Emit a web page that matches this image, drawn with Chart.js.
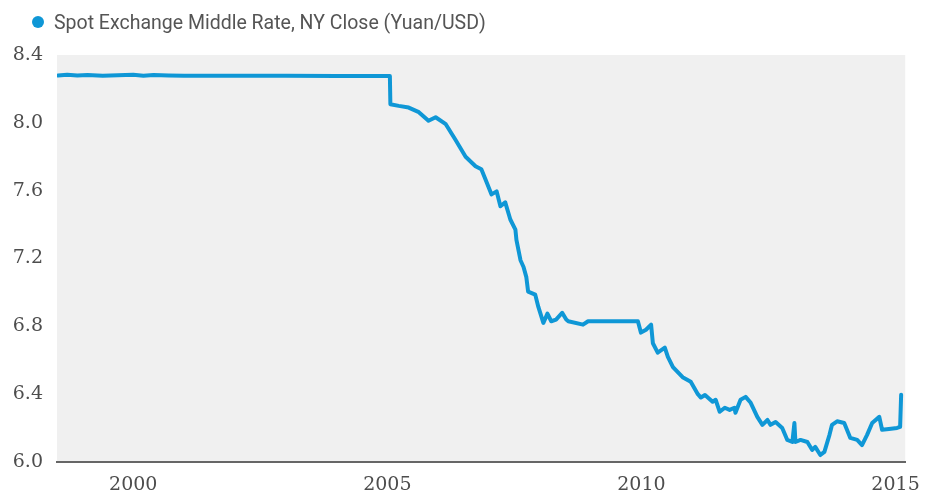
<!DOCTYPE html>
<html>
<head>
<meta charset="utf-8">
<script src="https://cdn.jsdelivr.net/npm/chart.js@4.4.0/dist/chart.umd.min.js"></script>
<style>
  html, body { margin: 0; padding: 0; background: #ffffff; }
  #wrap { position: relative; width: 932px; height: 495px; }
  #legend { position: absolute; left: 32px; top: 10px; height: 24px; font-family: Roboto, "Noto Sans", sans-serif; font-size: 19.5px; color: #555; display: flex; align-items: center; white-space: nowrap; }
  #legend .dot { width: 12px; height: 12px; border-radius: 50%; background: #0f97d6; margin-right: 10px; }
</style>
</head>
<body>
<div id="wrap">
  <canvas id="c" width="932" height="495"></canvas>
  <div id="legend"><span class="dot"></span><span id="legendText"></span></div>
</div>
<script>
// ---- Data (decimal year, Yuan per USD) ----
const seriesName = 'Spot Exchange Middle Rate, NY Close (Yuan/USD)';
const years = [
  1999.02, 1999.2, 1999.4, 1999.6, 1999.9, 2000.2, 2000.5, 2000.7, 2000.9, 2001.2,
  2001.5, 2001.8, 2002.5, 2003.5, 2004.5, 2005.0, 2005.55, 2005.56,
  2005.725, 2005.92, 2006.12, 2006.31, 2006.45, 2006.65, 2006.84, 2007.04, 2007.235, 2007.35,
  2007.43, 2007.55, 2007.65, 2007.725, 2007.82, 2007.92, 2008.02, 2008.04, 2008.12, 2008.18,
  2008.235, 2008.27, 2008.41, 2008.47, 2008.57, 2008.65, 2008.725, 2008.82, 2008.94, 2009.02,
  2009.06, 2009.35, 2009.45, 2009.65, 2010.18, 2010.43, 2010.49, 2010.59, 2010.69, 2010.725,
  2010.82, 2010.96, 2011.02, 2011.12, 2011.31, 2011.47, 2011.61, 2011.67, 2011.75, 2011.90,
  2011.96, 2012.04, 2012.14, 2012.235, 2012.33, 2012.35, 2012.45, 2012.55, 2012.65, 2012.78,
  2012.88, 2012.98, 2013.04, 2013.14, 2013.27, 2013.37, 2013.47, 2013.51, 2013.53, 2013.63,
  2013.765, 2013.86, 2013.92, 2014.02, 2014.10, 2014.20, 2014.25, 2014.35, 2014.49, 2014.61,
  2014.745, 2014.84, 2014.94, 2015.04, 2015.18, 2015.235, 2015.37, 2015.53, 2015.59, 2015.61
];
const rates = [
  8.279, 8.283, 8.279, 8.282, 8.278, 8.280, 8.283, 8.278, 8.282, 8.279,
  8.277, 8.278, 8.277, 8.277, 8.276, 8.276, 8.276, 8.110,
  8.100, 8.090, 8.063, 8.012, 8.033, 7.992, 7.900, 7.800, 7.744, 7.726,
  7.667, 7.578, 7.596, 7.508, 7.531, 7.430, 7.370, 7.310, 7.190, 7.150,
  7.090, 7.005, 6.987, 6.916, 6.820, 6.875, 6.830, 6.840, 6.880, 6.840,
  6.830, 6.810, 6.830, 6.830, 6.830, 6.830, 6.763, 6.780, 6.810, 6.700,
  6.645, 6.674, 6.620, 6.560, 6.500, 6.473, 6.400, 6.380, 6.395, 6.355,
  6.367, 6.296, 6.320, 6.307, 6.320, 6.290, 6.367, 6.384, 6.349, 6.266,
  6.219, 6.248, 6.219, 6.236, 6.201, 6.130, 6.118, 6.230, 6.118, 6.130,
  6.118, 6.071, 6.089, 6.041, 6.060, 6.160, 6.219, 6.240, 6.230, 6.142,
  6.130, 6.100, 6.160, 6.230, 6.266, 6.190, 6.195, 6.201, 6.207, 6.396
];
// ---- Axis labels ----
const xTickPositions = [2000.5, 2005.5, 2010.5, 2015.5];
const xTickLabels = ['2000', '2005', '2010', '2015'];
const yTickValues = [6.0, 6.4, 6.8, 7.2, 7.6, 8.0, 8.4];

document.getElementById('legendText').textContent = seriesName;

const lineColor = '#0f97d6';
const bgPlugin = {
  id: 'plotBg',
  beforeDraw(chart) {
    const { ctx, chartArea: a } = chart;
    ctx.save();
    ctx.fillStyle = '#f0f0f0';
    ctx.fillRect(a.left, a.top, a.right - a.left, a.bottom - a.top);
    ctx.restore();
  }
};

const tickFont = { family: '"DejaVu Serif", serif', size: 19 };

new Chart(document.getElementById('c'), {
  type: 'line',
  data: {
    datasets: [{
      label: seriesName,
      data: years.map((y, i) => ({ x: y, y: rates[i] })),
      borderColor: lineColor,
      backgroundColor: lineColor,
      borderWidth: 4,
      pointRadius: 0,
      tension: 0,
      borderJoinStyle: 'round',
      borderCapStyle: 'round'
    }]
  },
  options: {
    responsive: false,
    animation: false,
    layout: { padding: { left: 0, right: 24, top: 55, bottom: 0 } },
    plugins: { legend: { display: false }, tooltip: { enabled: false } },
    scales: {
      x: {
        type: 'linear',
        min: 1999.0,
        max: 2015.69,
        afterBuildTicks: (s) => { s.ticks = xTickPositions.map(v => ({ value: v })); },
        afterFit: (s) => { s.height = 33; },
        grid: { display: false, drawTicks: false },
        border: { display: true, color: '#666666', width: 2 },
        ticks: {
          padding: 12,
          color: '#4d4d4d',
          font: tickFont,
          maxRotation: 0,
          autoSkip: false,
          callback: (v) => { const i = xTickPositions.indexOf(v); return i >= 0 ? xTickLabels[i] : ''; }
        }
      },
      y: {
        min: 6.0,
        max: 8.4,
        afterBuildTicks: (s) => { s.ticks = yTickValues.map(v => ({ value: v })); },
        afterFit: (s) => { s.width = 57; },
        grid: { display: false, drawTicks: false },
        border: { display: false },
        ticks: {
          padding: 14,
          color: '#4d4d4d',
          font: tickFont,
          callback: (v) => v.toFixed(1)
        }
      }
    }
  },
  plugins: [bgPlugin]
});
</script>
</body>
</html>
